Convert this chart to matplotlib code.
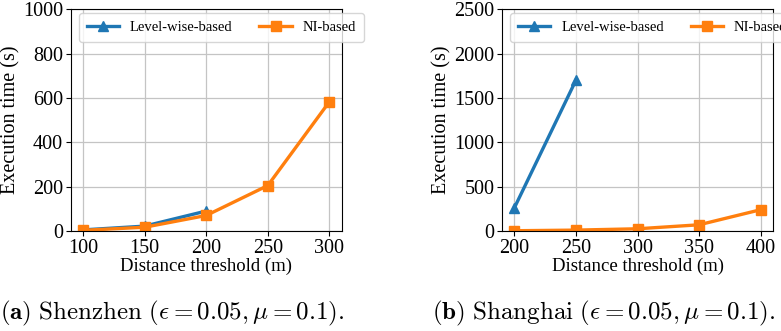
import matplotlib
matplotlib.use("Agg")
import matplotlib.pyplot as plt

plt.rcParams['font.family'] = ['Liberation Serif', 'DejaVu Serif']
plt.rcParams['mathtext.fontset'] = 'cm'

# Shenzhen
sz_x = [100, 150, 200, 250, 300]
sz_level_x = [100, 150, 200]
sz_level = [5, 22, 90]
sz_ni = [3, 17, 70, 205, 583]

# Shanghai
sh_x = [200, 250, 300, 350, 400]
sh_level_x = [200, 250]
sh_level = [260, 1700]
sh_ni = [3, 10, 25, 70, 240]

blue = '#1f77b4'
orange = '#ff7f0e'

fig = plt.figure(figsize=(7.81, 3.31), dpi=100)
W, H = 781.0, 331.0
ax1 = fig.add_axes([70.7 / W, 1 - 231 / H, 271 / W, 221.7 / H])
ax2 = fig.add_axes([502 / W, 1 - 231 / H, 271 / W, 221.7 / H])

panels = [
    (ax1, sz_x, sz_level_x, sz_level, sz_ni, 1000, 200),
    (ax2, sh_x, sh_level_x, sh_level, sh_ni, 2500, 500),
]
for ax, xs, lx, lv, ni, ymax, step in panels:
    ax.plot(lx, lv, color=blue, marker='^', lw=2.4, ms=7, label='Level-wise-based')
    ax.plot(xs, ni, color=orange, marker='s', lw=2.4, ms=6.5, label='NI-based')
    ax.set_xticks(xs)
    ax.set_ylim(0, ymax)
    ax.set_yticks(range(0, ymax + 1, step))
    ax.grid(True, color='#c4c4c4', lw=0.9)
    ax.tick_params(labelsize=14.5, pad=2)
    ax.set_xlabel('Distance threshold (m)', fontsize=13.5, labelpad=0)
    ax.set_ylabel('Execution time (s)', fontsize=14.5, labelpad=2)
    ax.legend(loc='upper left', ncol=2, fontsize=10.5, handlelength=2.2,
              handletextpad=0.75, columnspacing=1.85, borderpad=0.55,
              bbox_to_anchor=(0.03, 0.985), borderaxespad=0.0)

fig.text(0.0, 313 / H, r'$\mathbf{(a)}\ \mathrm{Shenzhen}\ (\epsilon = 0.05, \mu = 0.1).$',
         fontsize=18, va='center', ha='left', transform=fig.transFigure)
fig.text(432 / W, 1 - 313 / H, r'$\mathbf{(b)}\ \mathrm{Shanghai}\ (\epsilon = 0.05, \mu = 0.1).$',
         fontsize=18, va='center', ha='left')
fig.texts[0].set_y(1 - 313 / H)

fig.savefig('out.png', dpi=100)
